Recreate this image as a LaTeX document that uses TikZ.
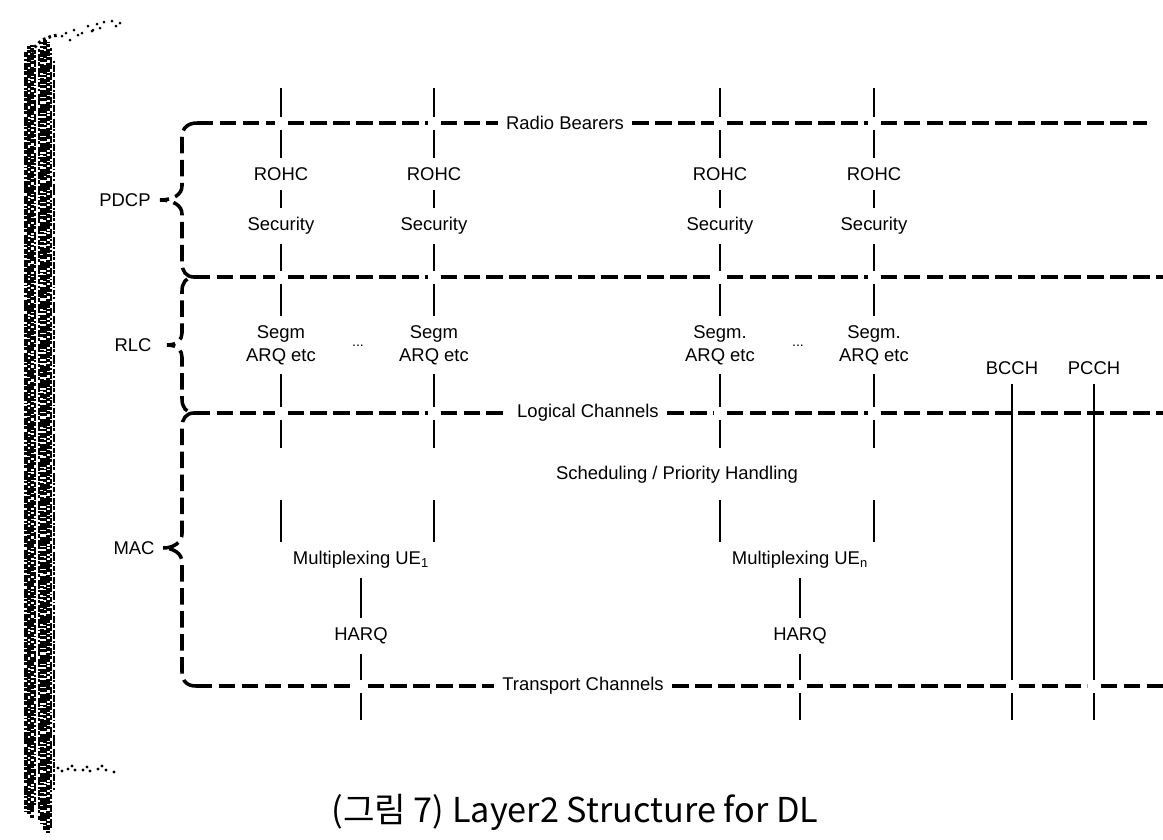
\documentclass[tikz,border=0pt]{standalone}
\usepackage{fontspec}
\setmainfont{Liberation Sans}
\newfontfamily\krfont{Noto Sans CJK KR}
\begin{document}
\begin{tikzpicture}[x=0.02cm,y=-0.02cm,
  lbl/.style={font=\fontsize{10.5}{13}\selectfont, align=center, inner sep=0pt, outer sep=0.19cm},
  linelbl/.style={lbl, outer sep=0.17cm},
  dl/.style={line width=2pt, dash pattern=on 0.33cm off 0.13cm},
  ln/.style={line width=1.2pt},
  xs/.style={shorten <=0.13cm},
  xe/.style={shorten >=0.13cm},
  grain/.style={line width=#1, dash pattern=on 3pt off 0.8pt on 1.5pt off 1.2pt on 4pt off 0.5pt on 2pt off 1.5pt on 5pt off 0.9pt on 1pt off 1pt}
]
\useasboundingbox (0,0) rectangle (1163,839);

% ---- scanned page edge on the left ----
\foreach \x/\w/\ph/\a/\b in {26/1.9pt/0pt/52/812, 29/2.2pt/1.3pt/46/816, 32/1.8pt/2.1pt/45/818,
    35/1.0pt/0.7pt/50/805, 39/1.0pt/3.0pt/48/820, 42/2.0pt/1.7pt/42/826,
    45/2.4pt/0.4pt/40/830, 48/2.2pt/2.6pt/42/833, 51/1.6pt/1.1pt/48/828, 54/0.9pt/3.4pt/60/790}
  \draw[grain=\w, dash phase=\ph] (\x,\a) -- (\x,\b);
\draw[line width=1.8pt, dash pattern=on 1.5pt off 1.8pt] (30,58) .. controls (33,44) and (44,37) .. (58,35);
\foreach \p in {(62,36),(66,33),(74,30),(78,35),(82,33),(88,26),(93,30),(97,24),(104,22),(100,28),(112,21),(120,23),(70,40),(92,31),(116,26)}
  \fill \p circle (1.5);
\foreach \p in {(58,768),(62,771),(68,769),(72,766),(75,770),(83,770),(87,767),(90,771),(98,769),(102,766),(106,770),(114,772)}
  \fill \p circle (1.6);

% ---- layer tags and braces ----
\node[lbl] (pdcp) at (125,200) {PDCP};
\node[lbl] (rlc) at (133,345) {RLC};
\node[lbl] (mac) at (134,548) {MAC};

\coordinate (tl) at (197,123);
\coordinate (jpr) at (194,277);
\coordinate (jlc) at (194,413);
\coordinate (bl) at (196,686);
\coordinate (ptip) at (160,200);
\coordinate (rtip) at (167,345);
\coordinate (mtip) at (163,548);

\draw[dl] (tl) .. controls (188,123) and (182,128) .. (182,137) -- (182,186)
  .. controls (182,194) and (174,200) .. (ptip)
  .. controls (174,200) and (182,206) .. (182,214) -- (182,263)
  .. controls (182,271) and (186,277) .. (jpr)
  .. controls (186,277) and (182,283) .. (182,291) -- (182,333)
  .. controls (182,339) and (178,345) .. (rtip)
  .. controls (178,345) and (182,351) .. (182,357) -- (182,399)
  .. controls (182,407) and (186,413) .. (jlc)
  .. controls (186,413) and (182,419) .. (182,427) -- (182,534)
  .. controls (182,542) and (174,548) .. (mtip)
  .. controls (174,548) and (182,554) .. (182,562) -- (182,672)
  .. controls (182,681) and (187,686) .. (bl);

% ---- radio bearer columns ----
\foreach \i/\x/\sg in {1/281/Segm,2/434/Segm,3/720/Segm.,4/874/Segm.}{
  \coordinate (top\i) at (\x,88);
  \coordinate (rb\i) at (\x,123);
  \node[lbl] (rohc\i) at (\x,174) {ROHC};
  \node[lbl] (sec\i) at (\x,226) {Security};
  \coordinate (pr\i) at (\x,277);
  \node[lbl] (arq\i) at (\x,345) {\sg\\ARQ etc};
  \coordinate (lc\i) at (\x,413);
  \coordinate (lo\i) at (\x,448);
  \coordinate (mu\i) at (\x,500);
}
\node[lbl] (dots1) at (358,346) {\footnotesize ...};
\node[lbl] (dots2) at (798,346) {\footnotesize ...};

\node[lbl] (sched) at (677,475) {Scheduling / Priority Handling};
\node[lbl] (mux1) at (361,560) {Multiplexing UE\textsubscript{1}};
\node[lbl] (mux2) at (800,560) {Multiplexing UE\textsubscript{n}};
\node[lbl] (harq1) at (361,636) {HARQ};
\node[lbl] (harq2) at (800,636) {HARQ};
\node[lbl] (bcch) at (1012,368) {BCCH};
\node[lbl] (pcch) at (1094,368) {PCCH};

% crossing points on the transport channel line and free ends below it
\coordinate (tc1) at (361,686);
\coordinate (tc2) at (800,686);
\coordinate (tcb) at (1012,686);
\coordinate (tcp) at (1094,686);
\coordinate (bt1) at (361,720);
\coordinate (bt2) at (800,720);
\coordinate (btb) at (1012,720);
\coordinate (btp) at (1094,720);

% ---- channel lines ----
\node[linelbl] (rbl) at (565,123) {Radio Bearers};
\node[linelbl] (lcl) at (588,413) {Logical Channels};
\node[linelbl] (tcl) at (583,686) {Transport Channels};
\coordinate (rbend) at (1147,123);
\coordinate (prend) at (1163,277);
\coordinate (lcend) at (1163,413);
\coordinate (tcend) at (1163,686);

\draw[dl,xe] (tl) -- (rb1);
\draw[dl,xs,xe] (rb1) -- (rb2);
\draw[dl,xs] (rb2) -- (rbl);
\draw[dl,xe] (rbl) -- (rb3);
\draw[dl,xs,xe] (rb3) -- (rb4);
\draw[dl,xs] (rb4) -- (rbend);

\draw[dl,xe] (jpr) -- (pr1);
\draw[dl,xs,xe] (pr1) -- (pr2);
\draw[dl,xs,xe] (pr2) -- (pr3);
\draw[dl,xs,xe] (pr3) -- (pr4);
\draw[dl,xs] (pr4) -- (prend);

\draw[dl,xe] (jlc) -- (lc1);
\draw[dl,xs,xe] (lc1) -- (lc2);
\draw[dl,xs] (lc2) -- (lcl);
\draw[dl,xe] (lcl) -- (lc3);
\draw[dl,xs,xe] (lc3) -- (lc4);
\draw[dl,xs] (lc4) -- (lcend);

\draw[dl,xe] (bl) -- (tc1);
\draw[dl,xs] (tc1) -- (tcl);
\draw[dl,xe] (tcl) -- (tc2);
\draw[dl,xs,xe] (tc2) -- (tcb);
\draw[dl,xs,xe] (tcb) -- (tcp);
\draw[dl,xs] (tcp) -- (tcend);

% ---- vertical connectors ----
\foreach \i in {1,2,3,4}{
  \draw[ln,xe] (top\i) -- (rb\i);
  \draw[ln,xs] (rb\i) -- (rohc\i);
  \draw[ln] (rohc\i) -- (sec\i);
  \draw[ln,xe] (sec\i) -- (pr\i);
  \draw[ln,xs] (pr\i) -- (arq\i);
  \draw[ln,xe] (arq\i) -- (lc\i);
  \draw[ln,xs] (lc\i) -- (lo\i);
}
\draw[ln] (mu1) -- (mu1 |- mux1.north);
\draw[ln] (mu2) -- (mu2 |- mux1.north);
\draw[ln] (mu3) -- (mu3 |- mux2.north);
\draw[ln] (mu4) -- (mu4 |- mux2.north);

\draw[ln] (mux1) -- (harq1);
\draw[ln,xe] (harq1) -- (tc1);
\draw[ln,xs] (tc1) -- (bt1);
\draw[ln] (mux2) -- (harq2);
\draw[ln,xe] (harq2) -- (tc2);
\draw[ln,xs] (tc2) -- (bt2);

\draw[ln,xe] (bcch) -- (tcb);
\draw[ln,xs] (tcb) -- (btb);
\draw[ln,xe] (pcch) -- (tcp);
\draw[ln,xs] (tcp) -- (btp);

% ---- caption ----
\node[font=\krfont\fontsize{19.5}{22}\selectfont, inner sep=0pt] (cap) at (575,812) {(그림 7) Layer2 Structure for DL};
\end{tikzpicture}
\end{document}
